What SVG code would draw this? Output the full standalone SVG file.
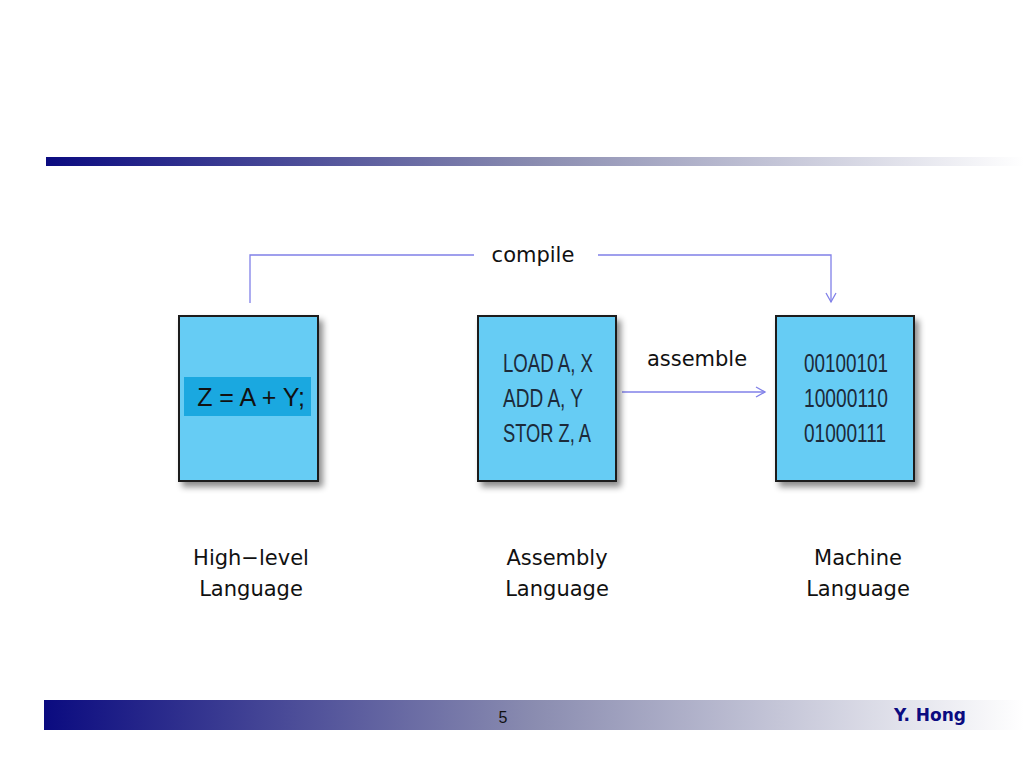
<svg xmlns="http://www.w3.org/2000/svg" width="1024" height="768" viewBox="0 0 1024 768">
<defs>
<linearGradient id="bar" x1="0" x2="1" y1="0" y2="0"><stop offset="0" stop-color="#0b0b80"/><stop offset="0.5" stop-color="#8a8cb0"/><stop offset="1" stop-color="#ffffff"/></linearGradient>
<filter id="sh" x="-10%" y="-10%" width="130%" height="130%"><feDropShadow dx="4" dy="5" stdDeviation="3" flood-color="#000" flood-opacity="0.45"/></filter>
<marker id="ah" markerWidth="12" markerHeight="12" refX="10" refY="6" orient="auto" markerUnits="userSpaceOnUse"><path d="M1,1 L10,6 L1,11" fill="none" stroke="#8080e8" stroke-width="1.3"/></marker>
<style>
.box{fill:#66ccf4;stroke:#1a1a1a;stroke-width:2;filter:url(#sh)}
.code{font-family:"Liberation Sans Narrow","Liberation Sans",Arial,sans-serif;font-size:26px;fill:#1c2a3a}
.lbl{font-family:"DejaVu Sans",sans-serif;font-size:21px;fill:#111;text-anchor:middle}
.c{fill:none;stroke:#8080e8;stroke-width:1.3}
</style>
</defs>
<rect x="46" y="157" width="978" height="9" fill="url(#bar)"/>
<rect x="44" y="700" width="980" height="30" fill="url(#bar)"/>
<text x="503" y="723" font-family="Liberation Sans,sans-serif" font-size="16" fill="#111" text-anchor="middle">5</text>
<text x="966" y="721" font-family="DejaVu Sans,sans-serif" font-size="17" font-weight="bold" fill="#0b0b80" text-anchor="end">Y. Hong</text>
<g id="connectors">
<path class="c" d="M250,303 V255 H474"/>
<path class="c" d="M598,255 H831 V302" marker-end="url(#ah)"/>
<path class="c" d="M622,392 H765" marker-end="url(#ah)"/>
<text class="lbl" x="533" y="262">compile</text>
<text class="lbl" x="697" y="366">assemble</text>
</g>
<g id="high">
<rect class="box" x="179" y="316" width="139" height="165"/>
<rect x="184" y="377" width="127" height="39" fill="#1aa8e0"/>
<text x="251" y="406" font-family="Liberation Sans,Arial,sans-serif" font-size="25" fill="#111" text-anchor="middle">Z = A + Y;</text>
<text class="lbl" x="251" y="565">High−level</text>
<text class="lbl" x="251" y="596">Language</text>
</g>
<g id="asm">
<rect class="box" x="478" y="316" width="138" height="165"/>
<text class="code" x="503" y="372" textLength="90" lengthAdjust="spacingAndGlyphs">LOAD A, X</text>
<text class="code" x="503" y="407" textLength="80" lengthAdjust="spacingAndGlyphs">ADD A, Y</text>
<text class="code" x="503" y="442" textLength="88" lengthAdjust="spacingAndGlyphs">STOR Z, A</text>
<text class="lbl" x="557" y="565">Assembly</text>
<text class="lbl" x="557" y="596">Language</text>
</g>
<g id="mach">
<rect class="box" x="776" y="316" width="138" height="165"/>
<text class="code" x="804" y="372" textLength="84" lengthAdjust="spacingAndGlyphs">00100101</text>
<text class="code" x="804" y="407" textLength="84" lengthAdjust="spacingAndGlyphs">10000110</text>
<text class="code" x="804" y="442" textLength="82" lengthAdjust="spacingAndGlyphs">01000111</text>
<text class="lbl" x="858" y="565">Machine</text>
<text class="lbl" x="858" y="596">Language</text>
</g>
</svg>
